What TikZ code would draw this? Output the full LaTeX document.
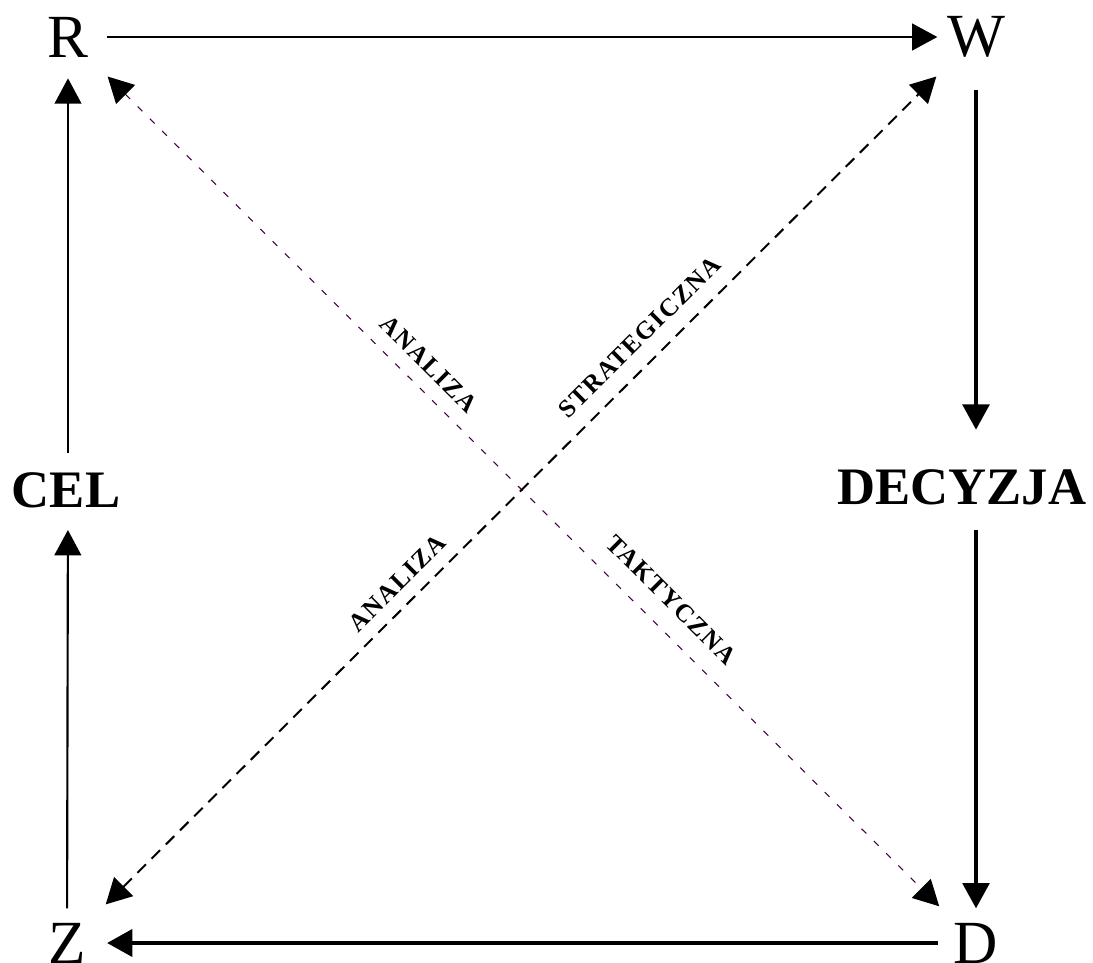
\documentclass[tikz,border=0pt]{standalone}
\usepackage{fontspec}
\setmainfont{Liberation Serif}
\newfontfamily\diagfont[LetterSpace=6]{Liberation Serif}
\usetikzlibrary{arrows.meta}

\begin{document}
\begin{tikzpicture}[x=0.75pt,y=-0.75pt,
  letter/.style={inner sep=0pt,font=\fontsize{46}{46}\selectfont},
  bigword/.style={inner sep=0pt,font=\fontsize{39.5}{40}\selectfont\bfseries},
  diaglabel/.style={inner sep=0pt,sloped,font=\diagfont\fontsize{19}{19}\selectfont\bfseries},
  flow/.style={-{Triangle[length=19pt,width=20pt]}},
  strategicline/.style={{Triangle[length=19pt,width=20pt]}-{Triangle[length=19pt,width=20pt]},
    line width=1.5pt,dash pattern=on 9pt off 6pt},
  tacticline/.style={{Triangle[length=19pt,width=20pt,color=black]}-{Triangle[length=19pt,width=20pt,color=black]},
    line width=0.8pt,dash pattern=on 5pt off 8pt,draw=violet!55!black}]

\useasboundingbox (0,0) rectangle (1093,963);

% ===== CORNER AND SIDE NODES =====
\node[letter] (R) at (68,37) {R};
\node[letter] (W) at (976,37) {W};
\node[letter] (Z) at (67,943) {Z};
\node[letter] (D) at (976,943) {D};
\node[bigword] (CEL) at (66,490) {CEL};
\node[bigword] (DECYZJA) at (962,487) {DECYZJA};

% ===== OUTER CYCLE =====
\draw[flow,line width=2.2pt,shorten <=29pt,shorten >=29pt] (R.center) -- (W.center);
\draw[flow,line width=3pt,shorten <=40pt,shorten >=43pt] (W.center) -- (W |- DECYZJA);
\draw[flow,line width=3pt,shorten <=32pt,shorten >=26pt] (W |- DECYZJA) -- (D.center);
\draw[flow,line width=3.7pt,shorten <=28.5pt,shorten >=30pt] (D.center) -- (Z.center);
\draw[flow,line width=1.6pt,shorten <=26pt,shorten >=30pt] (Z.center) -- (R |- CEL);
\draw[flow,line width=1.6pt,shorten <=28pt,shorten >=31pt] (R |- CEL) -- (R.center);

% ===== DIAGONALS =====
\draw[tacticline,shorten <=42pt,shorten >=39pt] (R.center) -- (D.center)
  node[diaglabel,pos=0.379,above=11pt] (upperAnaliza) {ANALIZA}
  node[diaglabel,pos=0.643,above=14pt] (taktyczna) {TAKTYCZNA};

\draw[strategicline,shorten <=41pt,shorten >=42pt] (Z.center) -- (W.center)
  node[diaglabel,pos=0.380,above=9.2pt] (lowerAnaliza) {ANALIZA}
  node[diaglabel,pos=0.649,above=11.7pt] (strategiczna) {STRATEGICZNA};

\end{tikzpicture}
\end{document}
